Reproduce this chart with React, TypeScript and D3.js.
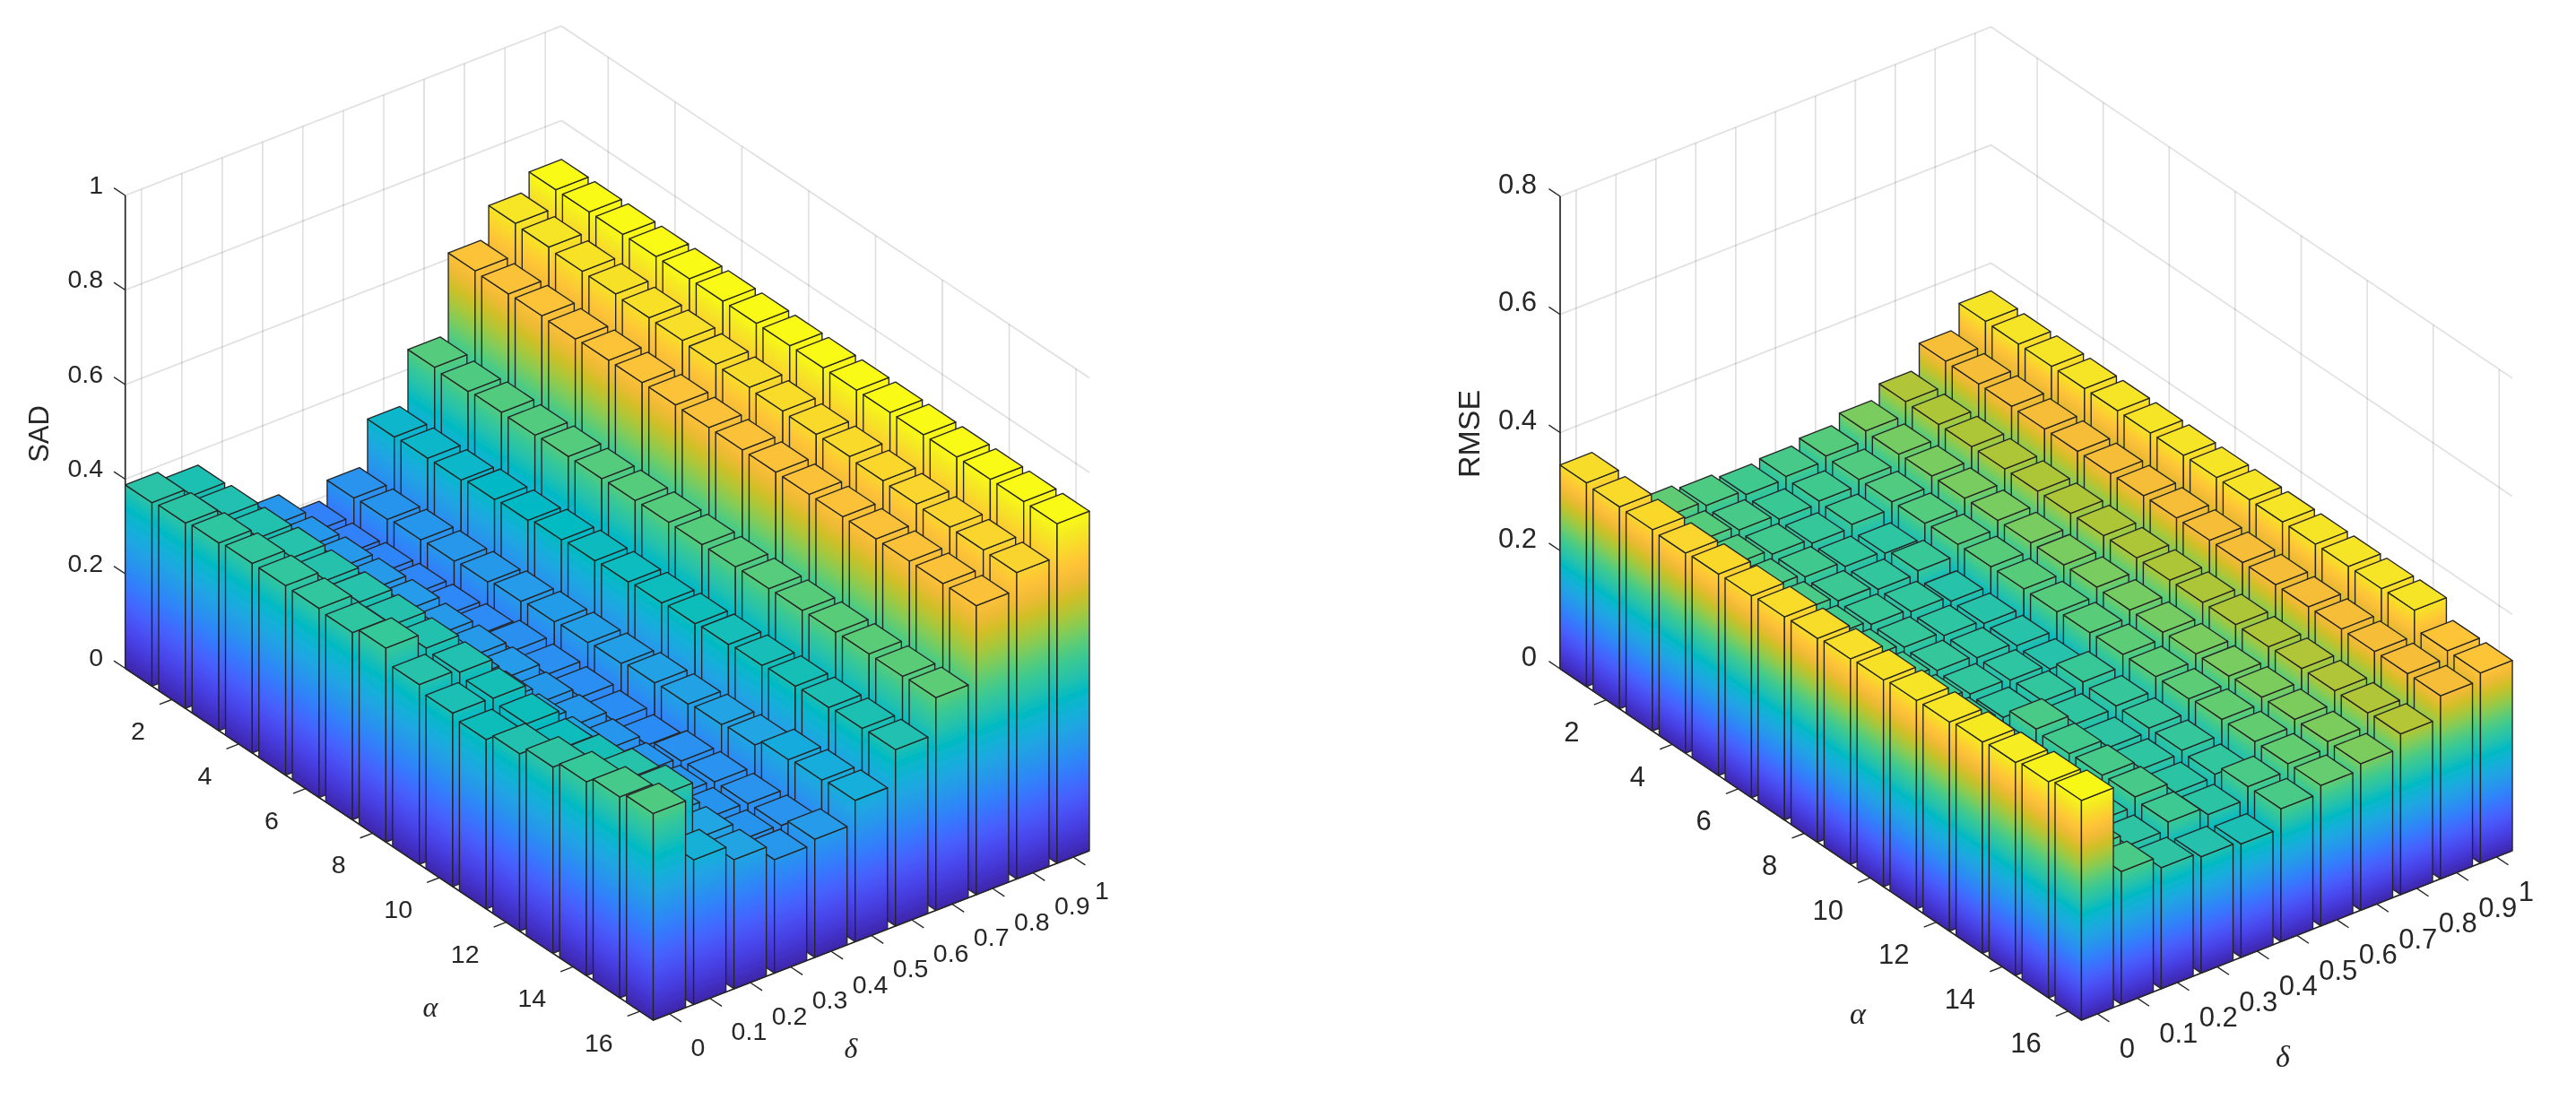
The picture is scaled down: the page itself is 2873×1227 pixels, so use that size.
// Two MATLAB-style bar3 panels (SAD and RMSE over alpha and delta), drawn with D3 scales and an orthographic projection.
import * as d3 from 'd3';

const alphaValues = d3.range(1, 17);
const alphaTicks = [2, 4, 6, 8, 10, 12, 14, 16];
const deltaTicks = [0, 0.1, 0.2, 0.3, 0.4, 0.5, 0.6, 0.7, 0.8, 0.9, 1];
const sadTicks = [0, 0.2, 0.4, 0.6, 0.8, 1];
const rmseTicks = [0, 0.2, 0.4, 0.6, 0.8];

// SAD, one list per delta, alpha = 1..16
const sadDelta00 = [0.388, 0.392, 0.397, 0.401, 0.401, 0.4, 0.396, 0.41, 0.38, 0.367, 0.358, 0.375, 0.394, 0.41, 0.425, 0.437];
const sadDelta01 = [0.37, 0.374, 0.375, 0.38, 0.379, 0.38, 0.379, 0.377, 0.373, 0.365, 0.358, 0.352, 0.366, 0.383, 0.395, 0.306];
const sadDelta02 = [0.278, 0.278, 0.279, 0.28, 0.28, 0.28, 0.279, 0.279, 0.278, 0.277, 0.276, 0.275, 0.275, 0.274, 0.274, 0.273];
const sadDelta03 = [0.241, 0.242, 0.246, 0.248, 0.25, 0.247, 0.248, 0.249, 0.243, 0.242, 0.238, 0.235, 0.234, 0.234, 0.234, 0.24];
const sadDelta04 = [0.194, 0.195, 0.201, 0.204, 0.207, 0.213, 0.225, 0.222, 0.221, 0.218, 0.214, 0.227, 0.23, 0.231, 0.232, 0.25];
const sadDelta05 = [0.232, 0.234, 0.238, 0.24, 0.243, 0.249, 0.253, 0.256, 0.259, 0.265, 0.267, 0.271, 0.275, 0.291, 0.295, 0.299];
const sadDelta06 = [0.328, 0.33, 0.331, 0.337, 0.34, 0.346, 0.349, 0.351, 0.354, 0.357, 0.36, 0.363, 0.366, 0.368, 0.371, 0.373];
const sadDelta07 = [0.442, 0.438, 0.441, 0.44, 0.442, 0.442, 0.443, 0.444, 0.444, 0.444, 0.445, 0.446, 0.447, 0.448, 0.448, 0.45];
const sadDelta08 = [0.613, 0.611, 0.612, 0.61, 0.612, 0.612, 0.612, 0.611, 0.611, 0.611, 0.611, 0.611, 0.611, 0.611, 0.611, 0.611];
const sadDelta09 = [0.68, 0.677, 0.673, 0.672, 0.669, 0.668, 0.665, 0.663, 0.66, 0.658, 0.658, 0.654, 0.652, 0.65, 0.649, 0.648];
const sadDelta10 = [0.718, 0.718, 0.718, 0.718, 0.718, 0.718, 0.718, 0.718, 0.718, 0.718, 0.718, 0.718, 0.718, 0.718, 0.718, 0.718];

// RMSE, one list per delta, alpha = 1..16
const rmseDelta00 = [0.345, 0.342, 0.341, 0.339, 0.341, 0.342, 0.344, 0.345, 0.348, 0.35, 0.353, 0.354, 0.358, 0.361, 0.366, 0.372];
const rmseDelta01 = [0.245, 0.243, 0.24, 0.238, 0.236, 0.235, 0.233, 0.232, 0.23, 0.23, 0.229, 0.228, 0.228, 0.227, 0.226, 0.225];
const rmseDelta02 = [0.235, 0.231, 0.228, 0.225, 0.224, 0.221, 0.219, 0.218, 0.217, 0.216, 0.214, 0.212, 0.21, 0.207, 0.205, 0.205];
const rmseDelta03 = [0.227, 0.223, 0.22, 0.219, 0.216, 0.214, 0.213, 0.211, 0.209, 0.207, 0.225, 0.221, 0.222, 0.223, 0.218, 0.197];
const rmseDelta04 = [0.219, 0.215, 0.212, 0.21, 0.209, 0.209, 0.206, 0.206, 0.206, 0.208, 0.207, 0.205, 0.206, 0.204, 0.204, 0.192];
const rmseDelta05 = [0.223, 0.219, 0.217, 0.206, 0.214, 0.2, 0.2, 0.2, 0.198, 0.214, 0.211, 0.211, 0.211, 0.208, 0.225, 0.225];
const rmseDelta06 = [0.231, 0.229, 0.229, 0.23, 0.232, 0.232, 0.232, 0.231, 0.233, 0.234, 0.234, 0.234, 0.237, 0.237, 0.237, 0.238];
const rmseDelta07 = [0.247, 0.245, 0.246, 0.246, 0.246, 0.246, 0.246, 0.246, 0.245, 0.245, 0.246, 0.246, 0.248, 0.248, 0.248, 0.248];
const rmseDelta08 = [0.27, 0.269, 0.269, 0.269, 0.269, 0.269, 0.269, 0.269, 0.269, 0.269, 0.269, 0.269, 0.27, 0.27, 0.27, 0.272];
const rmseDelta09 = [0.312, 0.311, 0.311, 0.31, 0.31, 0.31, 0.31, 0.31, 0.31, 0.31, 0.31, 0.31, 0.31, 0.31, 0.31, 0.31];
const rmseDelta10 = [0.353, 0.352, 0.352, 0.352, 0.352, 0.352, 0.352, 0.352, 0.352, 0.352, 0.352, 0.352, 0.352, 0.353, 0.322, 0.322];

const sadValues = [sadDelta00, sadDelta01, sadDelta02, sadDelta03, sadDelta04, sadDelta05, sadDelta06, sadDelta07, sadDelta08, sadDelta09, sadDelta10];
const rmseValues = [rmseDelta00, rmseDelta01, rmseDelta02, rmseDelta03, rmseDelta04, rmseDelta05, rmseDelta06, rmseDelta07, rmseDelta08, rmseDelta09, rmseDelta10];

// parula, every third entry of the 64 step map
const parula = [
  [0.2422, 0.1504, 0.6603], [0.2647, 0.1978, 0.7952], [0.2783, 0.2559, 0.8991], [0.281, 0.3228, 0.9579],
  [0.2699, 0.3892, 0.9906], [0.2206, 0.4603, 0.9973], [0.1786, 0.5289, 0.9682], [0.154, 0.5902, 0.9218],
  [0.1248, 0.6459, 0.8883], [0.0689, 0.6948, 0.8394], [0.0067, 0.7312, 0.766], [0.1408, 0.7584, 0.6842],
  [0.2161, 0.7843, 0.5923], [0.3406, 0.8008, 0.4789], [0.5044, 0.7993, 0.348], [0.672, 0.7793, 0.2227],
  [0.8203, 0.7498, 0.1535], [0.9393, 0.7288, 0.21], [0.997, 0.7659, 0.2199], [0.9786, 0.8386, 0.1766],
  [0.9597, 0.9135, 0.1423], [0.9769, 0.9839, 0.0805],
].map(([r, g, b]) => d3.rgb(r * 255, g * 255, b * 255).formatHex());

const parulaOffsets = parula.map((_, k) => k / (parula.length - 1));
const parulaScale = d3.scaleLinear<string>().domain(parulaOffsets).range(parula).interpolate(d3.interpolateRgb);

const INK = '#262626';
const BAR_WIDTH = 0.8;
const path = d3.line();

type Point = [number, number];

interface PanelProps {
  id: string;
  values: number[][];
  zTicks: number[];
  zLabel: string;
  colorMax: number;
  origin: Point; // left corner of the floor
  deltaStep: Point; // screen vector of one delta bar pitch
  alphaStep: Point; // screen vector of one alpha bar pitch
  zPixels: number; // screen height of the whole z axis
  tickSize: number;
  zLabelAt: Point;
  zLabelSize: number;
  zTickOffset: Point;
  alphaLabelAt: Point;
  deltaLabelAt: Point;
  greekSize: number;
  alphaTickOffset: Point;
  deltaTickOffset: Point;
}

function Bar3Panel(props: PanelProps) {
  const { id, values, zTicks, zLabel, colorMax, origin, deltaStep, alphaStep, zPixels, tickSize, greekSize } = props;

  // data to axis units: each bar pitch is 1, the floor starts at the outer edge of the first bar
  const uScale = d3.scaleLinear().domain([0, 1]).range([BAR_WIDTH / 2, 10 + BAR_WIDTH / 2]);
  const vScale = d3.scaleLinear().domain([1, 16]).range([BAR_WIDTH / 2, 15 + BAR_WIDTH / 2]);
  const zScale = d3.scaleLinear().domain([0, zTicks[zTicks.length - 1]]).range([0, zPixels]);

  const uMax = 10 + BAR_WIDTH;
  const vMax = 15 + BAR_WIDTH;
  const zTop = zTicks[zTicks.length - 1];

  const project = (u: number, v: number, z: number): Point => [
    origin[0] + u * deltaStep[0] + v * alphaStep[0],
    origin[1] + u * deltaStep[1] + v * alphaStep[1] - zScale(z),
  ];

  const color = (z: number) => parulaScale(Math.min(1, z / colorMax));

  // gradient whose iso lines run along the face base, so colour follows height only
  const gradientEnds = (start: Point, base: Point) => {
    const len = Math.hypot(base[0], base[1]);
    const normal: Point = [-base[1] / len, base[0] / len];
    const dist = -zScale(colorMax) * normal[1];
    return { x1: start[0], y1: start[1], x2: start[0] + normal[0] * dist, y2: start[1] + normal[1] * dist };
  };

  const defs: React.ReactNode[] = [];
  const bars: React.ReactNode[] = [];

  // painter's order: back rows first, higher delta first inside a row
  alphaValues.forEach((alpha, j) => {
    for (let i = values.length - 1; i >= 0; i--) {
      const z = values[i][j];
      const u0 = uScale(deltaTicks[i]) - BAR_WIDTH / 2;
      const v0 = vScale(alpha) - BAR_WIDTH / 2;
      const u1 = u0 + BAR_WIDTH;
      const v1 = v0 + BAR_WIDTH;

      const leftId = `${id}-l-${i}-${j}`;
      const rightId = `${id}-r-${i}-${j}`;
      defs.push(
        <linearGradient key={leftId} id={leftId} href={`#${id}-stops`} gradientUnits="userSpaceOnUse" {...gradientEnds(project(u0, v0, 0), alphaStep)} />,
        <linearGradient key={rightId} id={rightId} href={`#${id}-stops`} gradientUnits="userSpaceOnUse" {...gradientEnds(project(u0, v1, 0), deltaStep)} />,
      );

      const leftFace = [project(u0, v0, 0), project(u0, v1, 0), project(u0, v1, z), project(u0, v0, z)];
      const rightFace = [project(u0, v1, 0), project(u1, v1, 0), project(u1, v1, z), project(u0, v1, z)];
      const topFace = [project(u0, v0, z), project(u1, v0, z), project(u1, v1, z), project(u0, v1, z)];

      bars.push(
        <g key={`${i}-${j}`} stroke="#262626" strokeWidth={1.35} strokeLinejoin="round">
          <path d={path(leftFace) + 'Z'} fill={`url(#${leftId})`} />
          <path d={path(rightFace) + 'Z'} fill={`url(#${rightId})`} />
          <path d={path(topFace) + 'Z'} fill={color(z)} />
        </g>,
      );
    }
  });

  const gridLine = (a: Point, b: Point, key: string) => (
    <line key={key} x1={a[0]} y1={a[1]} x2={b[0]} y2={b[1]} stroke="#262626" strokeOpacity={0.15} strokeWidth={1.6} />
  );

  const leftBottom = project(0, 0, 0);
  const front = project(0, vMax, 0);
  const rightEnd = project(uMax, vMax, 0);

  return (
    <g fontFamily="'Liberation Sans', Arial, sans-serif" fill={INK}>
      <defs>
        <linearGradient id={`${id}-stops`}>
          {parula.map((c, k) => (
            <stop key={k} offset={parulaOffsets[k]} stopColor={c} />
          ))}
        </linearGradient>
        {defs}
      </defs>

      {/* back walls and floor */}
      {zTicks.map((t) => gridLine(project(0, 0, t), project(uMax, 0, t), `wl${t}`))}
      {zTicks.map((t) => gridLine(project(uMax, 0, t), project(uMax, vMax, t), `wr${t}`))}
      {deltaTicks.map((d) => gridLine(project(uScale(d), 0, 0), project(uScale(d), 0, zTop), `vd${d}`))}
      {deltaTicks.map((d) => gridLine(project(uScale(d), 0, 0), project(uScale(d), vMax, 0), `fd${d}`))}
      {alphaTicks.map((a) => gridLine(project(uMax, vScale(a), 0), project(uMax, vScale(a), zTop), `va${a}`))}
      {alphaTicks.map((a) => gridLine(project(0, vScale(a), 0), project(uMax, vScale(a), 0), `fa${a}`))}

      {/* axis lines */}
      <g stroke="#1a1a1a" strokeWidth={1.6} fill="none">
        <path d={path([project(0, 0, 0), project(0, 0, zTop)]) as string} />
        <path d={path([leftBottom, front, rightEnd]) as string} />
      </g>

      {bars}

      {/* z axis ticks */}
      {zTicks.map((t) => {
        const p = project(0, 0, t);
        return (
          <g key={`zt${t}`}>
            <line x1={p[0]} y1={p[1]} x2={p[0] - 0.34 * alphaStep[0]} y2={p[1] - 0.34 * alphaStep[1]} stroke={INK} strokeWidth={1.4} />
            <text x={p[0] + props.zTickOffset[0]} y={p[1] + props.zTickOffset[1]} fontSize={tickSize} textAnchor="end" dominantBaseline="central">
              {d3.format('~g')(t)}
            </text>
          </g>
        );
      })}

      {/* alpha ticks */}
      {alphaTicks.map((a) => {
        const p = project(0, vScale(a), 0);
        return (
          <g key={`at${a}`}>
            <line x1={p[0]} y1={p[1]} x2={p[0] - 0.31 * deltaStep[0]} y2={p[1] - 0.31 * deltaStep[1]} stroke={INK} strokeWidth={1.4} />
            <text x={p[0] + props.alphaTickOffset[0]} y={p[1] + props.alphaTickOffset[1]} fontSize={tickSize} textAnchor="end" dominantBaseline="central">
              {a}
            </text>
          </g>
        );
      })}

      {/* delta ticks */}
      {deltaTicks.map((d) => {
        const p = project(uScale(d), vMax, 0);
        return (
          <g key={`dt${d}`}>
            <line x1={p[0]} y1={p[1]} x2={p[0] + 0.36 * alphaStep[0]} y2={p[1] + 0.36 * alphaStep[1]} stroke={INK} strokeWidth={1.4} />
            <text x={p[0] + props.deltaTickOffset[0]} y={p[1] + props.deltaTickOffset[1]} fontSize={tickSize} textAnchor="start" dominantBaseline="central">
              {d3.format('~g')(d)}
            </text>
          </g>
        );
      })}

      <text
        transform={`translate(${props.zLabelAt[0]},${props.zLabelAt[1]}) rotate(-90)`}
        fontSize={props.zLabelSize}
        textAnchor="middle"
        dominantBaseline="central"
      >
        {zLabel}
      </text>
      <text x={props.alphaLabelAt[0]} y={props.alphaLabelAt[1]} fontFamily="'Liberation Serif', serif" fontStyle="italic" fontSize={greekSize} textAnchor="middle" dominantBaseline="central">
        α
      </text>
      <text x={props.deltaLabelAt[0]} y={props.deltaLabelAt[1]} fontFamily="'Liberation Serif', serif" fontStyle="italic" fontSize={greekSize} textAnchor="middle" dominantBaseline="central">
        δ
      </text>
    </g>
  );
}

export default function App() {
  return (
    <svg width={2873} height={1227} style={{ position: 'absolute', left: 0, top: 0, display: 'block', background: '#fff' }}>
      <defs>
        {/* the source figure is a resampled bitmap, so everything is slightly soft */}
        <filter id="soften" filterUnits="userSpaceOnUse" x={0} y={0} width={2873} height={1227}>
          <feGaussianBlur stdDeviation={0.55} />
        </filter>
      </defs>
      <g filter="url(#soften)">
        <Bar3Panel
          id="sad"
          values={sadValues}
          zTicks={sadTicks}
          zLabel="SAD"
          colorMax={0.72}
          origin={[139.7, 745.5]}
          deltaStep={[45.04, -17.5]}
          alphaStep={[37.27, 24.84]}
          zPixels={527.5}
          tickSize={28.5}
          zLabelAt={[43, 484]}
          zLabelSize={31}
          zTickOffset={[-24.7, -12.5]}
          alphaTickOffset={[-30, 35]}
          deltaTickOffset={[24, 37]}
          alphaLabelAt={[480, 1123]}
          deltaLabelAt={[949, 1169]}
          greekSize={32}
        />
        <Bar3Panel
          id="rmse"
          values={rmseValues}
          zTicks={rmseTicks}
          zLabel="RMSE"
          colorMax={0.375}
          origin={[1740, 746]}
          deltaStep={[44.5, -17.5]}
          alphaStep={[36.8, 24.8]}
          zPixels={527}
          tickSize={31}
          zLabelAt={[1638, 484]}
          zLabelSize={34}
          zTickOffset={[-26, -14]}
          alphaTickOffset={[-30, 36]}
          deltaTickOffset={[24.5, 39]}
          alphaLabelAt={[2072, 1130]}
          deltaLabelAt={[2546, 1178]}
          greekSize={34}
        />
      </g>
    </svg>
  );
}
